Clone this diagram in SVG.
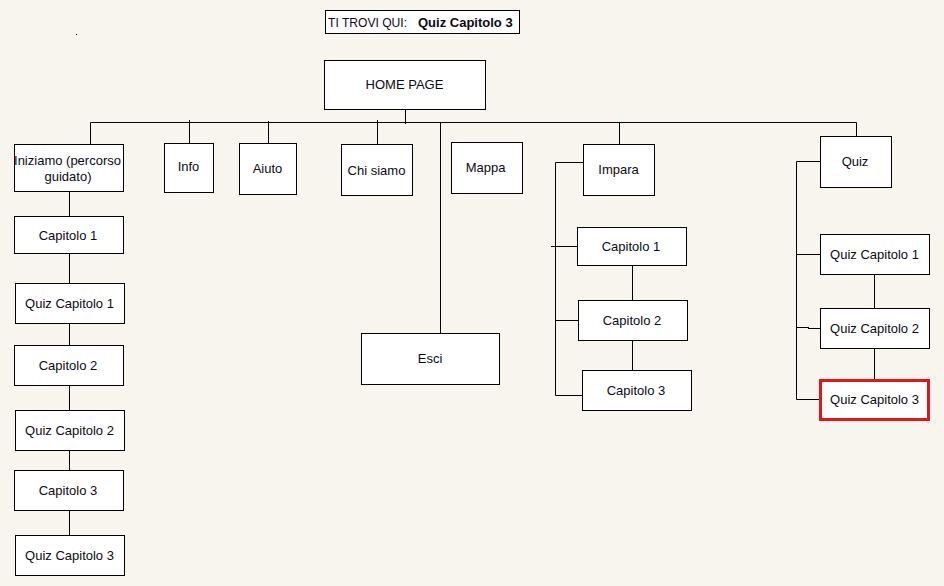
<svg xmlns="http://www.w3.org/2000/svg" width="944" height="586" viewBox="0 0 944 586">
  <style>
    .box { fill: #ffffff; stroke: #000000; stroke-width: 1; }
    .here { fill: #ffffff; stroke: #e8141b; stroke-width: 3; }
    .lbl { font-family: "Liberation Sans", Arial, sans-serif; font-size: 13px; fill: #0a0a14; text-anchor: middle; }
    .link { fill: none; stroke: #000000; stroke-width: 1; }
  </style>
  <rect x="0" y="0" width="944" height="586" fill="#f8f5ef"/>
  <rect x="76" y="34" width="1" height="1" fill="#000000"/>

  <!-- location banner -->
  <g id="banner">
    <rect class="box" x="325.5" y="10.5" width="194" height="23"/>
    <text class="lbl" x="328" y="26.5" style="text-anchor:start" textLength="79" lengthAdjust="spacingAndGlyphs">TI TROVI QUI:</text>
    <text class="lbl" x="418" y="26.5" style="text-anchor:start;font-weight:bold">Quiz Capitolo 3</text>
  </g>

  <!-- connectors -->
  <g id="connectors">
    <path class="link" d="M90.5 122.5 H856.5 V136"/>
    <path class="link" d="M405.5 109 V124"/>
    <path class="link" d="M90.5 122.5 V144"/>
    <path class="link" d="M189.5 120 V143"/>
    <path class="link" d="M268.5 121 V143"/>
    <path class="link" d="M377.5 120 V145"/>
    <path class="link" d="M440.5 122 V333"/>
    <path class="link" d="M619.5 122 V144"/>
    <!-- Impara branch -->
    <path class="link" d="M595 162.5 H555.5 V395.5 H586"/>
    <path class="link" d="M551 246.5 H577"/>
    <path class="link" d="M555.5 320.5 H578"/>
    <path class="link" d="M632.5 265 V300"/>
    <path class="link" d="M632.5 340 V379"/>
    <!-- Quiz branch -->
    <path class="link" d="M820 161.5 H796.5 V399.5 H819"/>
    <path class="link" d="M796.5 254.5 H820"/>
    <path class="link" d="M796.5 327.5 H809 M808 328.5 H820"/>
    <path class="link" d="M874.5 274 V308"/>
    <path class="link" d="M874.5 348 V379"/>
    <!-- guided path -->
    <path class="link" d="M69.5 191 V217"/>
    <path class="link" d="M69.5 254 V284"/>
    <path class="link" d="M69.5 323 V345"/>
    <path class="link" d="M69.5 385 V410"/>
    <path class="link" d="M69.5 450 V478"/>
    <path class="link" d="M69.5 510 V535"/>
  </g>

  <g id="home">
    <rect class="box" x="324.5" y="60.5" width="161" height="49"/>
    <text class="lbl" x="404.5" y="89">HOME PAGE</text>
  </g>
  <g id="iniziamo">
    <rect class="box" x="14.5" y="144.5" width="109" height="47"/>
    <text class="lbl" x="67.5" y="164.5">Iniziamo (percorso</text>
    <text class="lbl" x="68" y="181">guidato)</text>
  </g>
  <g id="info">
    <rect class="box" x="164.5" y="143.5" width="49" height="49"/>
    <text class="lbl" x="188.5" y="171">Info</text>
  </g>
  <g id="aiuto">
    <rect class="box" x="239.5" y="143.5" width="57" height="51"/>
    <text class="lbl" x="267.5" y="173">Aiuto</text>
  </g>
  <g id="chi-siamo">
    <rect class="box" x="341.5" y="144.5" width="71" height="51"/>
    <text class="lbl" x="376.5" y="174.5">Chi siamo</text>
  </g>
  <g id="mappa">
    <rect class="box" x="451.5" y="142.5" width="71" height="51"/>
    <text class="lbl" x="485.5" y="172">Mappa</text>
  </g>
  <g id="esci">
    <rect class="box" x="361.5" y="333.5" width="138" height="51"/>
    <text class="lbl" x="430" y="363">Esci</text>
  </g>
  <g id="impara">
    <rect class="box" x="583.5" y="144.5" width="71" height="51"/>
    <text class="lbl" x="618.5" y="174">Impara</text>
  </g>
  <g id="impara-capitolo-1">
    <rect class="box" x="577.5" y="227.5" width="109" height="38"/>
    <text class="lbl" x="631" y="250.5">Capitolo 1</text>
  </g>
  <g id="impara-capitolo-2">
    <rect class="box" x="578.5" y="300.5" width="109" height="40"/>
    <text class="lbl" x="632" y="324.5">Capitolo 2</text>
  </g>
  <g id="impara-capitolo-3">
    <rect class="box" x="582.5" y="370.5" width="109" height="40"/>
    <text class="lbl" x="636" y="394.5">Capitolo 3</text>
  </g>
  <g id="quiz">
    <rect class="box" x="820.5" y="136.5" width="71" height="51"/>
    <text class="lbl" x="855" y="165.5">Quiz</text>
  </g>
  <g id="quiz-capitolo-1">
    <rect class="box" x="820.5" y="234.5" width="109" height="40"/>
    <text class="lbl" x="874.5" y="258.5">Quiz Capitolo 1</text>
  </g>
  <g id="quiz-capitolo-2">
    <rect class="box" x="820.5" y="308.5" width="109" height="40"/>
    <text class="lbl" x="874.5" y="333">Quiz Capitolo 2</text>
  </g>
  <g id="quiz-capitolo-3">
    <rect class="here" x="820.5" y="380.5" width="108" height="39"/>
    <text class="lbl" x="874.5" y="403.5">Quiz Capitolo 3</text>
  </g>
  <g id="percorso-capitolo-1">
    <rect class="box" x="14.5" y="216.5" width="109" height="37"/>
    <text class="lbl" x="68" y="239.5">Capitolo 1</text>
  </g>
  <g id="percorso-quiz-1">
    <rect class="box" x="15.5" y="283.5" width="109" height="40"/>
    <text class="lbl" x="69.5" y="308">Quiz Capitolo 1</text>
  </g>
  <g id="percorso-capitolo-2">
    <rect class="box" x="14.5" y="345.5" width="109" height="40"/>
    <text class="lbl" x="68" y="369.5">Capitolo 2</text>
  </g>
  <g id="percorso-quiz-2">
    <rect class="box" x="15.5" y="410.5" width="109" height="40"/>
    <text class="lbl" x="69.5" y="434.5">Quiz Capitolo 2</text>
  </g>
  <g id="percorso-capitolo-3">
    <rect class="box" x="14.5" y="470.5" width="109" height="40"/>
    <text class="lbl" x="68" y="494.5">Capitolo 3</text>
  </g>
  <g id="percorso-quiz-3">
    <rect class="box" x="15.5" y="535.5" width="109" height="40"/>
    <text class="lbl" x="69.5" y="559.5">Quiz Capitolo 3</text>
  </g>
</svg>
